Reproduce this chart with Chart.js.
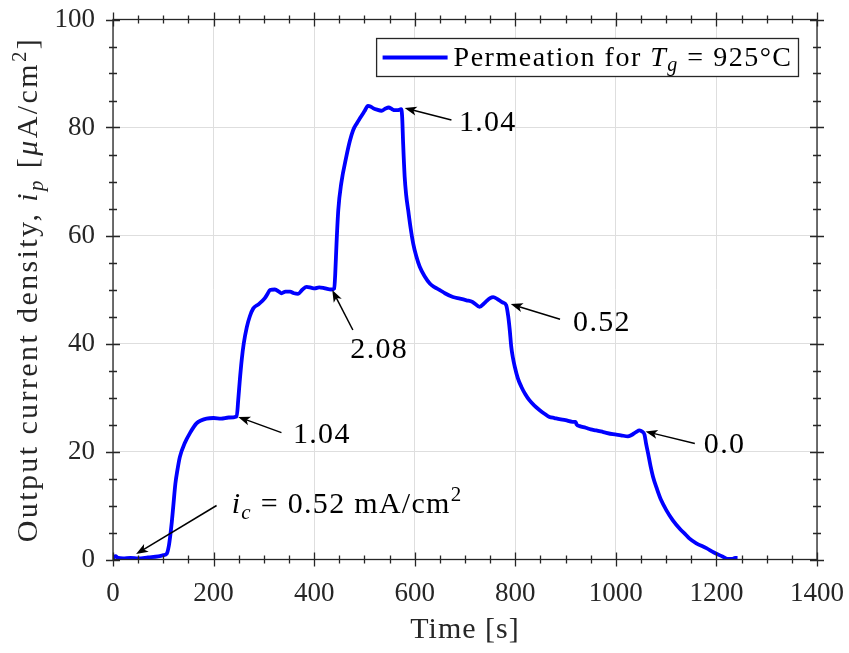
<!DOCTYPE html>
<html>
<head>
<meta charset="utf-8">
<script src="https://cdn.jsdelivr.net/npm/chart.js@4.4.0/dist/chart.umd.min.js"></script>
<style>
    html, body { margin: 0; padding: 0; background: #fff; }
    #wrap { width: 849px; height: 653px; }
</style>
</head>
<body>
<div id="wrap"><canvas id="myChart" width="849" height="653"></canvas></div>
<script>
// time axis [s] and output current density [uA/cm2]
const timeS = [0, 5, 10, 20, 35, 50, 70, 90, 100, 107, 111, 114, 117, 120, 124, 128, 133, 143, 153, 166,
    176, 186, 200, 215, 230, 246, 249, 252, 256, 260, 266, 272, 279, 290, 302, 308, 312, 322, 330, 335,
    343, 352, 360, 368, 377, 385, 395, 401, 410, 418, 426, 434, 440, 442, 444.5, 448, 454, 464, 471, 477.5,
    485, 491, 500, 507, 512, 517, 525, 534, 542, 548, 555, 560, 566, 573, 575, 577, 580, 583, 587, 592,
    597, 603, 610, 620, 630, 640, 650, 660, 676, 690, 703, 715, 729, 740, 750, 756, 765, 775, 782, 786,
    789, 792, 795, 799, 805, 812, 820, 828, 838, 848, 858, 868, 878, 888, 900, 914, 920, 922, 928, 940,
    950, 961, 975, 994, 1010, 1024, 1030, 1040, 1047, 1052, 1057, 1060, 1064, 1069, 1074, 1082, 1090, 1100, 1113, 1128,
    1140, 1146, 1160, 1180, 1195, 1213, 1222, 1232, 1237, 1242];
const currentDensity = [0.2, 0.6, 0.3, 0.2, 0.3, 0.2, 0.4, 0.6, 0.8, 1.1, 2.5, 4.5, 7, 10, 14, 16.5, 19, 21.6, 23.4, 25.2,
    25.8, 26.1, 26.2, 26.1, 26.3, 26.5, 29.5, 33, 37, 40, 43, 45, 46.5, 47.3, 48.4, 49.3, 49.9, 50, 49.6, 49.3,
    49.6, 49.6, 49.3, 49.2, 50, 50.5, 50.3, 50.2, 50.4, 50.3, 50.1, 50, 50.2, 53, 58.5, 64.7, 69.7, 74.6, 77.5, 79.5,
    80.8, 81.7, 83, 84, 83.9, 83.6, 83.3, 83.1, 83.5, 83.7, 83.4, 83.2, 83.2, 83.4, 82, 77, 70.9, 67.5, 64.7, 61.3,
    58.5, 56.2, 54.2, 52.4, 51.1, 50.4, 49.9, 49.3, 48.6, 48.3, 48, 47.7, 46.8, 47.6, 48.4, 48.6, 48.2, 47.6, 47.1, 45,
    42.5, 39.4, 37.5, 35.7, 33.6, 32, 30.6, 29.5, 28.5, 27.7, 27, 26.4, 26.2, 26, 25.8, 25.5, 25.5, 25, 24.7, 24.4,
    24.1, 23.9, 23.6, 23.2, 23, 22.8, 23, 23.6, 23.9, 23.7, 23.1, 21.5, 19.7, 17.3, 15.3, 13, 11, 9.2, 7.3, 5.6,
    4.5, 3.9, 3, 2.1, 1.3, 0.5, 0.1, 0.1, 0.3, 0.3];

const xTicks = [0, 200, 400, 600, 800, 1000, 1200, 1400];
const yTicks = [0, 20, 40, 60, 80, 100];

// annotations: arrow tip, arrow tail and text anchor in data units
const noteTips  = [[46, 1.0], [249, 26.4], [436, 49.9], [580, 83.6], [791, 47.3], [1059, 23.7]];
const noteTails = [[206, 10], [335, 23.5], [477, 42.5], [673, 81.4], [889, 44.5], [1157, 21.5]];
const noteText  = [[236, 8.7], [358, 21.5], [472, 37.3], [688, 79.4], [915, 42.4], [1175, 19.7]];
const noteLabels = [
    [{ t: 'i', it: true }, { t: 'c', it: true, sub: true }, { t: ' = 0.52 mA/cm' }, { t: '2', sup: true }],
    [{ t: '1.04' }],
    [{ t: '2.08' }],
    [{ t: '1.04' }],
    [{ t: '0.52' }],
    [{ t: '0.0' }]
];
const legendLabel = [{ t: 'Permeation for ' }, { t: 'T', it: true }, { t: 'g', it: true, sub: true }, { t: ' = 925°C' }];
const xTitle = [{ t: 'Time [s]' }];
const yTitle = [{ t: 'Output current density, ' }, { t: 'i', it: true }, { t: 'p', it: true, sub: true },
    { t: ' [' }, { t: 'μ', it: true }, { t: 'A/cm' }, { t: '2', sup: true }, { t: ']' }];

const SERIF = '"Liberation Serif", "DejaVu Serif", serif';
const INK = '#262626';

const segFont = (sg, size) => {
    const s = (sg.sub || sg.sup) ? Math.round(size * 0.7) : size;
    return (sg.it ? 'italic ' : '') + s + 'px ' + SERIF;
}
const richWidth = (ctx, segs, size, ls) => {
    let w = 0;
    ctx.letterSpacing = (ls || 0) + 'px';
    segs.forEach(sg => { ctx.font = segFont(sg, size); w += ctx.measureText(sg.t).width; });
    return w;
}
const drawRich = (ctx, segs, x, y, size, align, ls) => {
    let cx = align === 'center' ? x - richWidth(ctx, segs, size, ls) / 2 : x;
    ctx.letterSpacing = (ls || 0) + 'px';
    ctx.textAlign = 'left';
    ctx.textBaseline = 'alphabetic';
    segs.forEach(sg => {
        ctx.font = segFont(sg, size);
        const dy = sg.sub ? size * 0.2 : (sg.sup ? -size * 0.38 : 0);
        ctx.fillText(sg.t, cx, y + dy);
        cx += ctx.measureText(sg.t).width;
    });
    ctx.letterSpacing = '0px';
}

const drawArrow = (ctx, x0, y0, x1, y1) => {
    const ang = Math.atan2(y1 - y0, x1 - x0);
    const c = Math.cos(ang), s = Math.sin(ang);
    const hl = 12, hw = 4.5;
    const bx = x1 - hl * c, by = y1 - hl * s;
    ctx.beginPath();
    ctx.moveTo(x0, y0);
    ctx.lineTo(x1 - 8 * c, y1 - 8 * s);
    ctx.stroke();
    ctx.beginPath();
    ctx.moveTo(x1, y1);
    ctx.lineTo(bx - hw * s, by + hw * c);
    ctx.lineTo(x1 - 9 * c, y1 - 9 * s);
    ctx.lineTo(bx + hw * s, by - hw * c);
    ctx.closePath();
    ctx.fill();
}

const decorPlugin = {
    id: 'decor',
    afterDatasetsDraw(chart) {
        const { ctx, chartArea: a, scales: { x, y } } = chart;
        ctx.save();

        // box and ticks on all four sides
        ctx.strokeStyle = INK;
        ctx.lineWidth = 1.3;
        ctx.strokeRect(a.left, a.top, a.right - a.left, a.bottom - a.top);
        ctx.beginPath();
        for (let v = 0; v <= 1400; v += 50) {
            const px = Math.round(x.getPixelForValue(v)) + 0.5;
            const L = v % 200 === 0 ? 7 : 4;
            ctx.moveTo(px, a.bottom - L); ctx.lineTo(px, a.bottom + L);
            ctx.moveTo(px, a.top - L); ctx.lineTo(px, a.top + L);
        }
        for (let v = 0; v <= 100; v += 5) {
            const py = Math.round(y.getPixelForValue(v)) + 0.5;
            const L = v % 20 === 0 ? 7 : 4;
            ctx.moveTo(a.left - L, py); ctx.lineTo(a.left + L, py);
            ctx.moveTo(a.right - L, py); ctx.lineTo(a.right + L, py);
        }
        ctx.stroke();

        // annotations
        ctx.fillStyle = '#000';
        ctx.strokeStyle = '#000';
        ctx.lineWidth = 1.5;
        noteTips.forEach((tip, i) => {
            drawArrow(ctx,
                x.getPixelForValue(noteTails[i][0]), y.getPixelForValue(noteTails[i][1]),
                x.getPixelForValue(tip[0]), y.getPixelForValue(tip[1]));
            drawRich(ctx, noteLabels[i], x.getPixelForValue(noteText[i][0]), y.getPixelForValue(noteText[i][1]), 30, 'left', 1.3);
        });

        // legend
        const size = 28;
        const tw = richWidth(ctx, legendLabel, size, 1.5);
        const bw = 6 + 65 + 6 + tw + 6;
        const bx = a.right - 18.5 - bw, by = a.top + 19;
        ctx.fillStyle = '#fff';
        ctx.fillRect(bx, by, bw, 38);
        ctx.strokeStyle = INK;
        ctx.lineWidth = 1.3;
        ctx.strokeRect(bx, by, bw, 38);
        ctx.strokeStyle = '#0000ff';
        ctx.lineWidth = 3.8;
        ctx.beginPath();
        ctx.moveTo(bx + 6, by + 19); ctx.lineTo(bx + 71, by + 19);
        ctx.stroke();
        ctx.fillStyle = '#000';
        drawRich(ctx, legendLabel, bx + 77, by + 27, size, 'left', 1.5);

        // axis titles
        ctx.fillStyle = INK;
        drawRich(ctx, xTitle, (a.left + a.right) / 2, 638, 30, 'center', 1);
        ctx.translate(37, (a.top + a.bottom) / 2);
        ctx.rotate(-Math.PI / 2);
        drawRich(ctx, yTitle, 0, 0, 30, 'center', 2.4);
        ctx.restore();
    }
}

const points = timeS.map((t, i) => ({ x: t, y: currentDensity[i] }));

const noPad = s => { s.paddingTop = 0; s.paddingBottom = 0; s.paddingLeft = 0; s.paddingRight = 0; };

new Chart(document.getElementById('myChart'), {
    type: 'line',
    data: {
        datasets: [{
            label: 'Permeation for Tg = 925°C',
            data: points,
            borderColor: '#0000ff',
            borderWidth: 3.8,
            pointRadius: 0,
            cubicInterpolationMode: 'monotone',
            fill: false
        }]
    },
    options: {
        responsive: false,
        animation: false,
        layout: { padding: { top: 19.5, right: 32, left: 0, bottom: 0 } },
        plugins: { legend: { display: false }, tooltip: { enabled: false } },
        scales: {
            x: {
                type: 'linear', min: 0, max: 1400,
                afterBuildTicks: s => { s.ticks = xTicks.map(v => ({ value: v })); },
                afterFit: s => { s.height = 653 - 559.5; noPad(s); },
                grid: { color: '#dedede', lineWidth: 1, drawTicks: false },
                border: { display: false },
                ticks: { font: { family: SERIF, size: 27 }, color: INK, padding: 18, maxRotation: 0, callback: v => String(v) }
            },
            y: {
                type: 'linear', min: 0, max: 100,
                afterBuildTicks: s => { s.ticks = yTicks.map(v => ({ value: v })); },
                afterFit: s => { s.width = 113; noPad(s); },
                grid: { color: '#dedede', lineWidth: 1, drawTicks: false },
                border: { display: false },
                ticks: { font: { family: SERIF, size: 27 }, color: INK, padding: 18, callback: v => String(v) }
            }
        }
    },
    plugins: [decorPlugin]
});
</script>
</body>
</html>
